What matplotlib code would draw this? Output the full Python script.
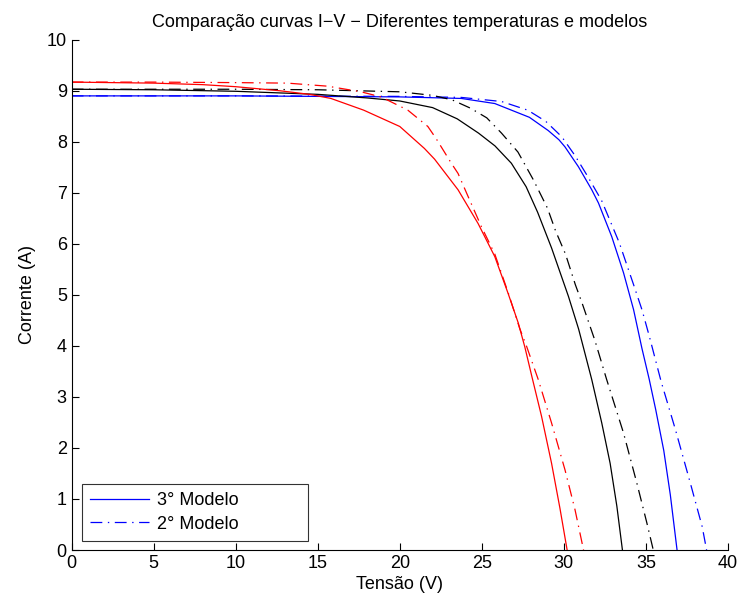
import numpy as np
import matplotlib
matplotlib.use("Agg")
import matplotlib.pyplot as plt

plt.rcParams['font.family'] = ['Liberation Sans', 'DejaVu Sans']
plt.rcParams['lines.scale_dashes'] = False

# curvas (tensao V, corrente A)
v_azul_3 = [0, 10, 20, 23.75, 25.79, 27.9, 29.05, 29.7, 30.07, 30.89, 31.7, 32.11,
            32.92, 33.64, 34.25, 34.76, 35.2, 35.6, 36.09, 36.49, 36.9]
i_azul_3 = [8.90, 8.90, 8.88, 8.85, 8.75, 8.48, 8.22, 8.04, 7.90, 7.51, 7.06, 6.80,
            6.14, 5.43, 4.71, 3.95, 3.35, 2.75, 1.95, 1.08, 0.0]

v_azul_2 = [0, 10, 20, 23.75, 26.2, 27.8, 28.9, 29.87, 30.68, 31.4, 32.3, 33.38,
            34.25, 34.76, 35.2, 35.93, 36.8, 37.71, 38.43, 38.7]
i_azul_2 = [8.90, 8.90, 8.89, 8.87, 8.79, 8.62, 8.40, 8.10, 7.73, 7.35, 6.85, 6.02,
            5.20, 4.71, 4.20, 3.30, 2.36, 1.31, 0.46, 0.0]

v_preto_3 = [0, 5, 10, 15, 18, 20, 22, 23.5, 24.8, 25.8, 26.8, 27.7, 28.4, 29.25,
             30.28, 30.9, 31.2, 31.7, 32.31, 32.82, 33.23, 33.57]
i_preto_3 = [9.03, 9.02, 8.99, 8.93, 8.86, 8.80, 8.67, 8.45, 8.17, 7.92, 7.58, 7.12,
             6.62, 5.92, 4.97, 4.33, 3.96, 3.34, 2.49, 1.70, 0.86, 0.0]

v_preto_2 = [0, 10, 15, 20, 22, 23.2, 24.3, 25.3, 26.2, 27.2, 28.15, 29.0, 29.5,
             30.1, 30.7, 31.1, 31.9, 32.6, 33.64, 34.45, 35.06, 35.45]
i_preto_2 = [9.03, 9.03, 9.02, 8.98, 8.91, 8.82, 8.66, 8.47, 8.17, 7.80, 7.25, 6.70,
             6.25, 5.80, 5.20, 4.85, 4.10, 3.35, 2.29, 1.31, 0.53, 0.0]

v_verm_3 = [0, 5, 8, 10, 12.7, 14.5, 15.8, 17.8, 20.0, 21.5, 22.12, 23.55, 24.77,
            25.79, 26.6, 27.22, 27.62, 28.05, 28.64, 29.25, 29.76, 30.2]
i_verm_3 = [9.17, 9.15, 9.12, 9.08, 9.00, 8.93, 8.85, 8.62, 8.30, 7.87, 7.66, 7.06,
            6.40, 5.75, 5.03, 4.45, 3.98, 3.40, 2.62, 1.70, 0.82, 0.0]

v_verm_2 = [0, 5, 10, 13.15, 15.6, 17.63, 18.86, 20.49, 21.71, 22.22, 23.14, 23.55,
            24.16, 24.97, 25.79, 26.6, 27.3, 27.73, 28.44, 29.25, 30.07, 30.68, 31.2]
i_verm_2 = [9.17, 9.17, 9.16, 9.15, 9.09, 8.98, 8.88, 8.62, 8.30, 8.06, 7.58, 7.38,
            6.93, 6.34, 5.80, 5.05, 4.35, 3.99, 3.34, 2.49, 1.57, 0.79, 0.0]

x_ticks = np.arange(0, 41, 5)
y_ticks = np.arange(0, 11, 1)

traco_ponto = (8.5, 4, 1, 4)

fig = plt.figure(figsize=(7.39, 6.06), dpi=100)
ax = fig.add_axes([0.097, 0.0924, 0.888, 0.842])

ax.plot(v_azul_3, i_azul_3, color='b', lw=0.9, label='3° Modelo')
ax.plot(v_azul_2, i_azul_2, color='b', lw=0.9, dashes=traco_ponto, label='2° Modelo')
ax.plot(v_preto_3, i_preto_3, color='k', lw=0.9)
ax.plot(v_preto_2, i_preto_2, color='k', lw=0.9, dashes=traco_ponto)
ax.plot(v_verm_3, i_verm_3, color='r', lw=0.9)
ax.plot(v_verm_2, i_verm_2, color='r', lw=0.9, dashes=traco_ponto)

ax.set_xlim(0, 40)
ax.set_ylim(0, 10)
ax.set_xticks(x_ticks)
ax.set_yticks(y_ticks)
ax.tick_params(direction='in', length=5, width=0.8, labelsize=13, top=False, right=False)
ax.spines['top'].set_visible(False)
ax.spines['right'].set_visible(False)
for s in ['left', 'bottom']:
    ax.spines[s].set_linewidth(0.8)

ax.set_xlabel('Tensão (V)', fontsize=13, labelpad=3)
ax.set_ylabel('Corrente (A)', fontsize=13, labelpad=8)
ax.set_title('Comparação curvas I\u2212V \u2212 Diferentes temperaturas e modelos',
             fontsize=13, pad=9)

leg = ax.legend(loc='lower left', bbox_to_anchor=(0.015, 0.018, 0.345, 0.11),
                mode='expand', fontsize=13, frameon=True, fancybox=False,
                handlelength=3.3, handletextpad=0.45, labelspacing=0.36,
                borderpad=0.45, borderaxespad=0)
leg.get_frame().set_edgecolor('k')
leg.get_frame().set_linewidth(0.8)

plt.savefig('out.png', dpi=100)
